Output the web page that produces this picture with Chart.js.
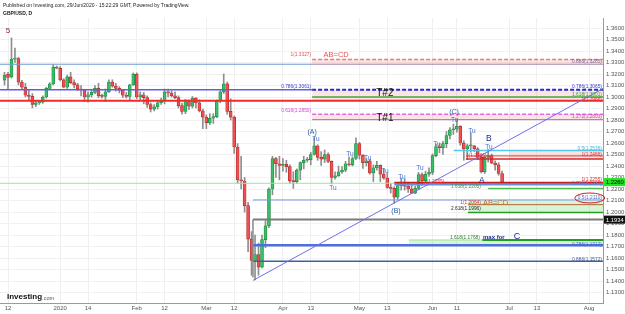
<!DOCTYPE html>
<html>
<head>
<meta charset="utf-8">
<script src="https://cdn.jsdelivr.net/npm/chart.js@4.4.1/dist/chart.umd.min.js"></script>
<style>
  html, body { margin: 0; padding: 0; background: #fff; }
  #myChart { display: block; }
</style>
</head>
<body>
<canvas id="myChart" width="625" height="314"></canvas>
<script>
// daily GBP/USD candles, bar index -1 = 11 Dec 2019 ... 142 = 29 Jun 2020
const firstBar = -1;
const opens = [
  1.3146, 1.3200, 1.3175, 1.3330, 1.3335, 1.3130, 1.3085, 1.3015, 1.3005, 1.2935, 1.2950, 1.2955, 1.3000, 1.3075, 1.3115,
  1.3260, 1.3250, 1.3150, 1.3085, 1.3175, 1.3125, 1.3105, 1.3070, 1.3060, 1.3000, 1.3020, 1.3040, 1.3075, 1.3010, 1.3005,
  1.3045, 1.3130, 1.3095, 1.3075, 1.3060, 1.3015, 1.3005, 1.3105,
  1.3200, 1.3000, 1.3020, 1.2995, 1.2935, 1.2895, 1.2915, 1.2950, 1.2965, 1.3045, 1.3035, 1.3010, 1.2995, 1.2925, 1.2875,
  1.2960, 1.2920, 1.2990, 1.2950, 1.2880,
  1.2825, 1.2775, 1.2815, 1.2830, 1.2965, 1.3045, 1.3115, 1.2875, 1.2825, 1.2565, 1.2280, 1.2270, 1.2055, 1.1765, 1.1580,
  1.1630, 1.1520, 1.1760, 1.1880, 1.2200, 1.2465, 1.2420,
  1.2405, 1.2415, 1.2395, 1.2270, 1.2265, 1.2365, 1.2430, 1.2450, 1.2455, 1.2500, 1.2575, 1.2475, 1.2460, 1.2500, 1.2440,
  1.2300, 1.2315, 1.2350, 1.2365, 1.2420, 1.2410, 1.2465,
  1.2595, 1.2495, 1.2430, 1.2445, 1.2340, 1.2385, 1.2405, 1.2330, 1.2295, 1.2215, 1.2205, 1.2130, 1.2230, 1.2235, 1.2225,
  1.2200, 1.2165, 1.2205, 1.2325, 1.2270, 1.2330,
  1.2345, 1.2490, 1.2570, 1.2560, 1.2595, 1.2665, 1.2715, 1.2720, 1.2745, 1.2600, 1.2550, 1.2575, 1.2575, 1.2550, 1.2475,
  1.2350, 1.2475, 1.2490, 1.2425, 1.2410, 1.2335
];
const highs = [
  1.3215, 1.3215, 1.3514, 1.3425, 1.3345, 1.3145, 1.3120, 1.3060, 1.3030, 1.2970, 1.2965, 1.3010, 1.3085, 1.3125, 1.3285,
  1.3270, 1.3265, 1.3160, 1.3190, 1.3215, 1.3150, 1.3120, 1.3100, 1.3065, 1.3045, 1.3060, 1.3100, 1.3120, 1.3025, 1.3070,
  1.3150, 1.3150, 1.3120, 1.3090, 1.3065, 1.3040, 1.3110, 1.3210,
  1.3210, 1.3045, 1.3040, 1.3010, 1.2950, 1.2935, 1.2970, 1.2990, 1.3070, 1.3070, 1.3055, 1.3045, 1.3010, 1.2945, 1.2980,
  1.2975, 1.3005, 1.2995, 1.2975, 1.2895,
  1.2845, 1.2855, 1.2855, 1.2975, 1.3055, 1.3200, 1.3130, 1.2985, 1.2835, 1.2595, 1.2485, 1.2300, 1.2085, 1.1830, 1.1800,
  1.1730, 1.1800, 1.1925, 1.2210, 1.2485, 1.2475, 1.2485,
  1.2465, 1.2450, 1.2410, 1.2350, 1.2375, 1.2435, 1.2485, 1.2475, 1.2520, 1.2648, 1.2585, 1.2525, 1.2540, 1.2515, 1.2445,
  1.2350, 1.2400, 1.2395, 1.2440, 1.2480, 1.2480, 1.2645,
  1.2605, 1.2500, 1.2465, 1.2455, 1.2410, 1.2440, 1.2410, 1.2375, 1.2340, 1.2245, 1.2220, 1.2245, 1.2295, 1.2285, 1.2255,
  1.2240, 1.2225, 1.2345, 1.2340, 1.2355, 1.2385,
  1.2505, 1.2590, 1.2595, 1.2615, 1.2700, 1.2735, 1.2765, 1.2810, 1.2750, 1.2620, 1.2590, 1.2690, 1.2580, 1.2560, 1.2490,
  1.2480, 1.2545, 1.2505, 1.2445, 1.2430, 1.2355
];
const lows = [
  1.3105, 1.3065, 1.3165, 1.3300, 1.3105, 1.3070, 1.3000, 1.2975, 1.2905, 1.2915, 1.2935, 1.2945, 1.2990, 1.3065, 1.3105,
  1.3245, 1.3140, 1.3080, 1.3075, 1.3115, 1.3080, 1.3055, 1.3010, 1.2960, 1.2955, 1.3000, 1.3030, 1.2995, 1.2990, 1.2960,
  1.3040, 1.3085, 1.3050, 1.3035, 1.2995, 1.2990, 1.2975, 1.3100,
  1.2985, 1.2975, 1.2940, 1.2910, 1.2870, 1.2880, 1.2895, 1.2935, 1.2940, 1.3000, 1.3000, 1.2985, 1.2905, 1.2850, 1.2855,
  1.2890, 1.2905, 1.2905, 1.2870, 1.2725,
  1.2725, 1.2760, 1.2770, 1.2820, 1.2950, 1.3030, 1.2850, 1.2800, 1.2510, 1.2250, 1.2200, 1.2000, 1.1655, 1.1450, 1.1410,
  1.1450, 1.1515, 1.1690, 1.1865, 1.2150, 1.2300, 1.2280,
  1.2355, 1.2345, 1.2250, 1.2205, 1.2250, 1.2280, 1.2375, 1.2435, 1.2410, 1.2495, 1.2450, 1.2405, 1.2430, 1.2430, 1.2245,
  1.2285, 1.2310, 1.2335, 1.2350, 1.2400, 1.2400, 1.2455,
  1.2460, 1.2380, 1.2400, 1.2330, 1.2265, 1.2365, 1.2265, 1.2285, 1.2205, 1.2165, 1.2075, 1.2110, 1.2190, 1.2190, 1.2170,
  1.2160, 1.2160, 1.2195, 1.2230, 1.2255, 1.2310,
  1.2325, 1.2480, 1.2515, 1.2500, 1.2560, 1.2635, 1.2675, 1.2695, 1.2580, 1.2450, 1.2455, 1.2520, 1.2525, 1.2455, 1.2340,
  1.2335, 1.2435, 1.2420, 1.2365, 1.2320, 1.2255
];
const closes = [
  1.3190, 1.3170, 1.3330, 1.3335, 1.3130, 1.3085, 1.3015, 1.3005, 1.2935, 1.2950, 1.2955, 1.3000, 1.3075, 1.3115, 1.3260,
  1.3250, 1.3150, 1.3085, 1.3175, 1.3125, 1.3105, 1.3070, 1.3060, 1.3000, 1.3020, 1.3040, 1.3075, 1.3010, 1.3005, 1.3045,
  1.3130, 1.3095, 1.3075, 1.3060, 1.3015, 1.3005, 1.3105, 1.3200,
  1.3000, 1.3020, 1.2995, 1.2935, 1.2895, 1.2915, 1.2950, 1.2965, 1.3045, 1.3035, 1.3010, 1.2995, 1.2925, 1.2875, 1.2960,
  1.2920, 1.2990, 1.2950, 1.2880, 1.2825,
  1.2775, 1.2815, 1.2830, 1.2965, 1.3045, 1.3115, 1.2875, 1.2825, 1.2565, 1.2280, 1.2270, 1.2055, 1.1765, 1.1580, 1.1630,
  1.1520, 1.1760, 1.1880, 1.2200, 1.2465, 1.2420, 1.2405,
  1.2415, 1.2395, 1.2270, 1.2265, 1.2365, 1.2430, 1.2450, 1.2455, 1.2500, 1.2575, 1.2475, 1.2460, 1.2500, 1.2440, 1.2300,
  1.2315, 1.2350, 1.2365, 1.2420, 1.2410, 1.2465, 1.2595,
  1.2495, 1.2430, 1.2445, 1.2340, 1.2385, 1.2405, 1.2330, 1.2295, 1.2215, 1.2205, 1.2130, 1.2230, 1.2235, 1.2225, 1.2200,
  1.2165, 1.2205, 1.2325, 1.2270, 1.2330, 1.2345,
  1.2490, 1.2570, 1.2560, 1.2595, 1.2665, 1.2715, 1.2720, 1.2745, 1.2600, 1.2550, 1.2575, 1.2575, 1.2550, 1.2475, 1.2350,
  1.2475, 1.2490, 1.2425, 1.2410, 1.2335, 1.2260
];

// axis ticks
const xTickBars = [0, 15, 23, 37, 45, 57, 65, 79, 87, 101, 109, 122, 129, 144, 152, 167];
const xTickLabels = ['12', '2020', '14', 'Feb', '12', 'Mar', '12', 'Apr', '13', 'May', '13', 'Jun', '11', 'Jul', '13', 'Aug'];
const yTicks = [1.13, 1.14, 1.15, 1.16, 1.17, 1.18, 1.19, 1.20, 1.21, 1.22, 1.23, 1.24, 1.25, 1.26,
  1.27, 1.28, 1.29, 1.30, 1.31, 1.32, 1.33, 1.34, 1.35, 1.36];
const xMin = -2.3, xMax = 171;
const yMin = 1.1209, yMax = 1.3687;

// shaded zones
const zoneFrom = [87.4, 87.4, 87.4, 144, 132.2, 115.2];
const zoneTop = [1.3327, 1.3063, 1.2850, 1.2536, 1.2100, 1.1757];
const zoneBottom = [1.3285, 1.2968, 1.2803, 1.2460, 1.1996, 1.1712];
const zoneFills = ['rgba(242,130,130,0.22)', 'rgba(242,130,130,0.22)', 'rgba(242,130,130,0.22)',
  'rgba(242,130,130,0.22)', 'rgba(130,225,120,0.32)', 'rgba(130,225,120,0.32)'];

// horizontal levels
const levelFrom = [-2.3, 87.4, 87.4, -2.3, 87.4, 87.4, -2.3, 87.4, 87.4, 128.1, 131.6, 131.6,
  -2.3, 111, 111, 138, 70.4, 132.2, 132.2, 70.4, 115.2, 136.3, 70.4, 70.4];
const levelTo = [87.4, 171, 171, 87.4, 171, 171, 171, 171, 171, 171, 171, 171,
  111, 171, 171, 171, 171, 171, 171, 171, 136.3, 171, 171, 171];
const levelValue = [1.3285, 1.3327, 1.3285, 1.3063, 1.3063, 1.3001, 1.2968, 1.2850, 1.2803, 1.2536, 1.2488, 1.2460,
  1.2250, 1.2255, 1.2237, 1.2205, 1.2105, 1.2064, 1.1996, 1.1934, 1.1757, 1.1757, 1.1712, 1.1572];
const levelColors = ['#6f9bd0', '#f07a7a', '#a58ab0', '#5f5fe6', '#1e2ad0', '#3ea83e', '#f02a2a', '#e468e4', '#a070b0',
  '#54c8ea', '#e03a3a', '#d02a2a', '#9ee39e', '#c81e1e', '#6b8fdc', '#4cc04c', '#6a98dc', '#b5653a', '#2a9a2a',
  '#7a7a7a', '#a0e0a0', '#1f9e1f', '#4f6fdc', '#3f5f9f'];
const levelWidths = [1, 1.5, 1, 1.5, 2, 1.5, 2, 1.5, 1, 1.5, 1, 1.5, 1, 2, 1.5, 1.5, 1, 1, 1.5, 2, 1, 2, 2.5, 1.5];
const levelDashed = [false, true, false, false, true, false, false, true, false, false, false, false,
  false, false, false, false, false, false, false, false, false, false, false, false];

// trend line and box edge
const trendX = [70.4, 171];
const trendY = [1.1405, 1.3074];
const boxEdgeX = [70.4, 70.4];
const boxEdgeY = [1.1934, 1.1430];

// text marks on the chart
const noteTexts = ['5', '(A)', 'Tu', 'Tu', 'Tu', 'Tu', 'Tu', 'Tu', 'Tu', 'Tu', '(C)', 'Tu', 'Tu', 'B', 'Tu', 'A', '(B)',
  'T#2', 'T#1', 'AB=CD', '1(1.3327)', '0.786(1.3061)', '0.618(1.2850)',
  '0.886(1.3285)', '0.786(1.3065)', '1.618(1.3001)', '1(1.2966)', '1.272(1.2803)', '0.5(1.2536)', '1(1.2486)',
  '1(1.2255)', '0.786(1.2237)', '0.5(1.2110)', '0.786(1.1712)', '0.886(1.1572)',
  '1.618(1.2205)', '1(1.2064)', 'AB=CD', '2.618(1.1996)', '1.618(1.1768)', 'max for', 'C', '1(1.2486)', '1(1.2255)'];
const noteX = [0, 87.4, 88.5, 98.3, 103.4, 108.3, 93.4, 113.2, 118.4, 123.3, 128.2, 128.4, 133.3, 138.2, 138.2, 136.2, 111.5,
  108.3, 108.3, 94.3, 87.1, 87.1, 87.1,
  170.7, 170.7, 170.7, 170.7, 170.7, 170.7, 170.7, 170.7, 170.7, 170.7, 170.7, 170.7,
  135.9, 135.9, 136.5, 135.9, 135.6, 136.5, 146.3, 131.6, 119.5];
const noteY = [1.3574, 1.2696, 1.2635, 1.2504, 1.2470, 1.2357, 1.2209, 1.2304, 1.2383, 1.2591, 1.2870, 1.2800, 1.2704,
  1.2635, 1.2565, 1.2270, 1.2009,
  1.3035, 1.2817, 1.3365, 1.3365, 1.3087, 1.2878,
  1.3304, 1.3091, 1.3022, 1.2978, 1.2826, 1.2548, 1.2500, 1.2278, 1.2248, 1.2126, 1.1717, 1.1587,
  1.2217, 1.2078, 1.2078, 1.2026, 1.1778, 1.1778, 1.1783, 1.2487, 1.2265];

const priceBoxValues = [1.2260, 1.1934];
const ellipseAt = [167.2, 1.2122];

// styles for the text marks, same order as noteTexts
const FONT = '"Liberation Sans", Arial, sans-serif';
const S = {
  five: { c: '#8b1c1c', f: '8px ' + FONT, a: 'center' },
  wave: { c: '#2c5aa8', f: '7px ' + FONT, a: 'center' },
  tu: { c: '#3f6fd8', f: '6.5px ' + FONT, a: 'center' },
  big: { c: '#1a2a8e', f: '8.5px ' + FONT, a: 'center' },
  tz: { c: '#111', f: '10px ' + FONT, a: 'center' },
  abcd: { c: '#e05555', f: '7.5px ' + FONT, a: 'center' },
  abcd2: { c: '#c8682a', f: '7.5px ' + FONT, a: 'left' },
  maxfor: { c: '#1a2a8e', f: 'bold 6px ' + FONT, a: 'left' },
  cbig: { c: '#1a2a8e', f: '9px ' + FONT, a: 'center' }
};
function small(c, a) { return { c: c, f: '4.8px ' + FONT, a: a || 'right' }; }
const noteStyles = [S.five, S.wave, S.tu, S.tu, S.tu, S.tu, S.tu, S.tu, S.tu, S.tu, S.wave, S.tu, S.tu, S.big, S.tu, S.big,
  S.wave, S.tz, S.tz, S.abcd, small('#e05555'), small('#3a3ad0'), small('#e040e0'),
  small('#7a6a9a'), small('#3a3ad0'), small('#3a9a3a'), small('#e03030'), small('#c050c0'), small('#35b5d5'),
  small('#e03030'), small('#e03030'), small('#5a7ad0'), small('#4a6ac0'), small('#4a6ac0'), small('#3a5a9a'),
  small('#3a9a3a'), small('#e03030'), S.abcd2, small('#222'), small('#2a7a2a'), S.maxfor, S.cbig,
  small('#e03030', 'left'), small('#e03030', 'left')];

const upFill = '#36bf63', upLine = '#1f8a45', downFill = '#ee5050', downLine = '#b52b2b', wickColor = '#8e8e8e';

const datasets = [];

zoneFrom.forEach((from, i) => {
  datasets.push({
    type: 'line', order: 6,
    data: [{ x: from, y: zoneTop[i] }, { x: xMax, y: zoneTop[i] }],
    borderWidth: 0, pointRadius: 0,
    backgroundColor: zoneFills[i],
    fill: { value: zoneBottom[i] }
  });
});

datasets.push({
  type: 'bar', order: 5, grouped: false,
  data: lows.map((l, i) => ({ x: firstBar + i, y: [l, highs[i]] })),
  backgroundColor: wickColor, barThickness: 1, minBarLength: 1
});
datasets.push({
  type: 'bar', order: 4, grouped: false,
  data: opens.map((o, i) => ({ x: firstBar + i, y: [o, closes[i]] })),
  backgroundColor: opens.map((o, i) => closes[i] >= o ? upFill : downFill),
  borderColor: opens.map((o, i) => closes[i] >= o ? upLine : downLine),
  borderWidth: 0.7, barThickness: 3, minBarLength: 1, borderSkipped: false
});

levelValue.forEach((v, i) => {
  datasets.push({
    type: 'line', order: 2,
    data: [{ x: levelFrom[i], y: v }, { x: levelTo[i], y: v }],
    borderColor: levelColors[i], borderWidth: levelWidths[i],
    borderDash: levelDashed[i] ? [4, 2] : [],
    pointRadius: 0, fill: false
  });
});

datasets.push({
  type: 'line', order: 1,
  data: trendX.map((x, i) => ({ x: x, y: trendY[i] })),
  borderColor: '#6e6ef0', borderWidth: 1, pointRadius: 0, fill: false
});
datasets.push({
  type: 'line', order: 1,
  data: boxEdgeX.map((x, i) => ({ x: x, y: boxEdgeY[i] })),
  borderColor: '#8a8a8a', borderWidth: 1.5, pointRadius: 0, fill: false
});

const overlay = {
  id: 'overlay',
  afterDatasetsDraw(chart) {
    const ctx = chart.ctx, xs = chart.scales.x, ys = chart.scales.y;
    ctx.save();
    ctx.textBaseline = 'middle';
    noteTexts.forEach((t, i) => {
      const st = noteStyles[i];
      ctx.font = st.f;
      ctx.fillStyle = st.c;
      ctx.textAlign = st.a;
      ctx.fillText(t, xs.getPixelForValue(noteX[i]), ys.getPixelForValue(noteY[i]));
    });
    // red ring round the 0.5 level label
    ctx.strokeStyle = '#cc2222';
    ctx.lineWidth = 1;
    ctx.beginPath();
    ctx.ellipse(xs.getPixelForValue(ellipseAt[0]), ys.getPixelForValue(ellipseAt[1]), 15, 5, 0, 0, Math.PI * 2);
    ctx.stroke();
    ctx.restore();
  },
  afterDraw(chart) {
    const ctx = chart.ctx, ys = chart.scales.y, area = chart.chartArea;
    ctx.save();
    const boxFill = ['#1ee61e', '#111'], boxText = ['#000', '#fff'];
    priceBoxValues.forEach((v, i) => {
      const py = ys.getPixelForValue(v);
      ctx.fillStyle = boxFill[i];
      ctx.fillRect(area.right + 1, py - 4, 22, 8);
      ctx.fillStyle = boxText[i];
      ctx.font = '5.8px ' + FONT;
      ctx.textAlign = 'left';
      ctx.textBaseline = 'middle';
      ctx.fillText(v.toFixed(4), area.right + 3, py + 0.5);
    });
    ctx.fillStyle = '#222';
    ctx.textAlign = 'left';
    ctx.textBaseline = 'middle';
    ctx.font = '5px ' + FONT;
    ctx.fillText('Published on Investing.com, 29/Jun/2020 - 15:22:29 GMT, Powered by TradingView.', 3, 6);
    ctx.font = 'bold 5px ' + FONT;
    ctx.fillText('GBP/USD, D', 3, 13.5);
    ctx.fillStyle = '#111';
    ctx.font = 'bold 8px ' + FONT;
    ctx.fillText('Investing', 7, 297);
    const w = ctx.measureText('Investing').width;
    ctx.fillStyle = '#555';
    ctx.font = '5.5px ' + FONT;
    ctx.fillText('.com', 7 + w, 298);
    ctx.restore();
  }
};

new Chart(document.getElementById('myChart'), {
  type: 'bar',
  data: { datasets: datasets },
  options: {
    responsive: false,
    animation: false,
    layout: { padding: { top: 18, left: 0, right: 0, bottom: 0 } },
    plugins: { legend: { display: false }, tooltip: { enabled: false } },
    scales: {
      x: {
        type: 'linear', min: xMin, max: xMax, offset: false,
        grid: { color: '#efefef', offset: false, drawTicks: false },
        border: { display: true, color: '#9a9a9a' },
        afterBuildTicks: s => { s.ticks = xTickBars.map(v => ({ value: v })); },
        afterFit: s => { s.height = 11; },
        ticks: {
          autoSkip: false, maxRotation: 0, padding: 2, color: '#555',
          font: { size: 6, family: FONT },
          callback: (v, i) => xTickLabels[i]
        }
      },
      y: {
        type: 'linear', position: 'right', min: yMin, max: yMax,
        grid: { color: '#f1f1f1', drawTicks: false },
        border: { display: true, color: '#9a9a9a' },
        afterBuildTicks: s => { s.ticks = yTicks.map(v => ({ value: v })); },
        afterFit: s => { s.width = 22; },
        ticks: {
          padding: 3, color: '#555',
          font: { size: 6, family: FONT },
          callback: v => Number(v).toFixed(4)
        }
      }
    }
  },
  plugins: [overlay]
});
</script>
</body>
</html>
